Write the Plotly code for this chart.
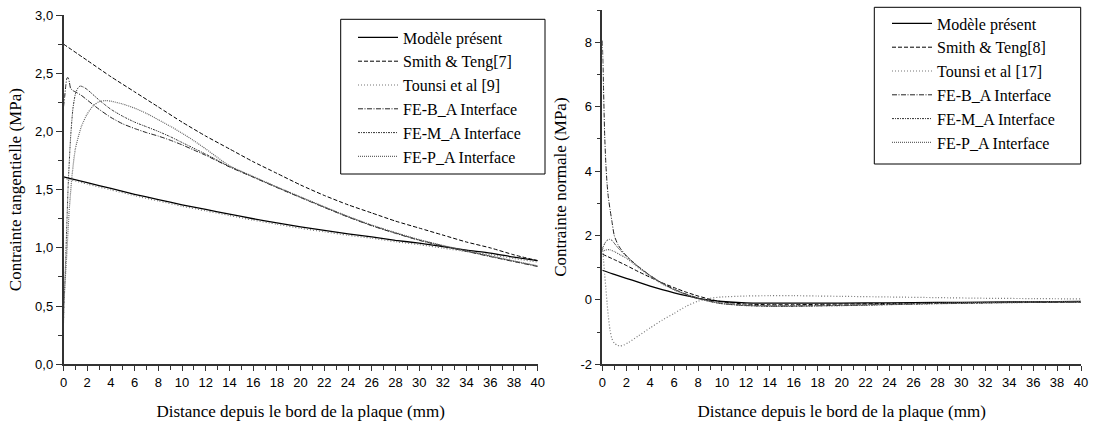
import plotly.graph_objects as go

# ---------------- Left panel: shear stress ----------------
xl_model = [0, 2, 4, 6, 8, 10, 12, 14, 16, 18, 20, 22, 24, 26, 28, 30, 32, 34, 36, 38, 40]
yl_model = [1.61, 1.56, 1.51, 1.46, 1.415, 1.37, 1.33, 1.29, 1.25, 1.215, 1.18, 1.15, 1.12,
            1.095, 1.065, 1.04, 1.01, 0.98, 0.955, 0.92, 0.89]
yl_tounsi = [1.60, 1.548, 1.498, 1.448, 1.403, 1.358, 1.318, 1.278, 1.238, 1.203, 1.168, 1.138,
             1.108, 1.083, 1.053, 1.028, 0.998, 0.968, 0.943, 0.908, 0.878]
yl_smith = [2.75, 2.61, 2.47, 2.34, 2.21, 2.08, 1.96, 1.85, 1.74, 1.64, 1.54, 1.45, 1.37,
            1.30, 1.23, 1.17, 1.11, 1.05, 1.00, 0.94, 0.89]

xl_tail = [14, 16, 18, 20, 22, 24, 26, 28, 30, 32, 34, 36, 38, 40]

xl_feb = [0, 0.1, 0.2, 0.3, 0.4, 0.5, 0.6, 0.8, 1.0, 1.5, 2, 3, 4, 5, 6, 7, 8, 9, 10, 11, 12, 13] + xl_tail
yl_feb = [2.21, 2.30, 2.40, 2.46, 2.46, 2.42, 2.37, 2.35, 2.34, 2.31, 2.27, 2.19, 2.12, 2.065, 2.025,
          1.99, 1.96, 1.925, 1.885, 1.84, 1.795, 1.745,
          1.695, 1.607, 1.518, 1.432, 1.347, 1.265, 1.19, 1.125, 1.065, 1.015, 0.97, 0.925, 0.882, 0.84]

xl_fem = [0, 0.2, 0.4, 0.6, 0.8, 1.0, 1.2, 1.4, 1.7, 2, 3, 4, 5, 6, 7, 8, 9, 10, 11, 12, 13] + xl_tail
yl_fem = [0.35, 0.95, 1.55, 1.95, 2.2, 2.32, 2.37, 2.39, 2.38, 2.36, 2.27, 2.19, 2.13, 2.08, 2.04,
          2.0, 1.955, 1.905, 1.855, 1.805, 1.752,
          1.70, 1.61, 1.521, 1.435, 1.35, 1.268, 1.193, 1.128, 1.068, 1.018, 0.973, 0.928, 0.885, 0.843]

xl_fep = [0, 0.25, 0.5, 0.75, 1.0, 1.5, 2, 2.5, 3, 3.5, 4, 5, 6, 7, 8, 9, 10, 11, 12, 13] + xl_tail
yl_fep = [0.5, 0.9, 1.35, 1.65, 1.85, 2.04, 2.15, 2.22, 2.255, 2.265, 2.26, 2.235, 2.2, 2.155, 2.10,
          2.045, 1.985, 1.92, 1.85, 1.775,
          1.705, 1.613, 1.524, 1.438, 1.353, 1.271, 1.196, 1.131, 1.071, 1.021, 0.976, 0.931, 0.888, 0.846]

# ---------------- Right panel: normal stress ----------------
xr_model = [0, 1, 2, 3, 4, 5, 6, 7, 8, 9, 10, 12, 14, 16, 18, 20, 24, 28, 32, 36, 40]
yr_model = [0.92, 0.79, 0.67, 0.55, 0.43, 0.32, 0.22, 0.13, 0.05, -0.01, -0.05, -0.09, -0.10,
            -0.10, -0.10, -0.10, -0.09, -0.08, -0.07, -0.06, -0.05]

xr_smith = [0, 1, 2, 3, 4, 5, 6, 7, 8, 9, 10, 12, 14, 16, 18, 20, 24, 28, 32, 36, 40]
yr_smith = [1.42, 1.25, 1.07, 0.88, 0.70, 0.53, 0.38, 0.24, 0.12, 0.02, -0.06, -0.13, -0.15,
            -0.15, -0.14, -0.13, -0.11, -0.09, -0.08, -0.07, -0.06]

xr_tounsi = [0, 0.1, 0.2, 0.3, 0.4, 0.5, 0.65, 0.8, 1.0, 1.25, 1.5, 1.8, 2.2, 3, 4, 5, 6, 7, 8, 9,
             10, 12, 14, 16, 18, 20, 24, 28, 32, 36, 40]
yr_tounsi = [1.65, 1.25, 0.8, 0.35, -0.1, -0.5, -0.95, -1.2, -1.34, -1.41, -1.43, -1.40, -1.32,
             -1.12, -0.87, -0.63, -0.42, -0.2, -0.04, 0.05, 0.09, 0.12, 0.13, 0.13, 0.12, 0.11,
             0.09, 0.07, 0.05, 0.04, 0.03]

xr_tail = [9, 10, 12, 14, 16, 18, 20, 24, 28, 32, 36, 40]

xr_feb = [0, 0.05, 0.1, 0.15, 0.2, 0.3, 0.4, 0.5, 0.65, 0.8, 1.0, 1.3, 1.6, 2, 2.5, 3, 4, 5, 6, 7, 8] + xr_tail
yr_feb = [8.05, 7.4, 6.6, 5.8, 5.1, 4.2, 3.6, 3.2, 2.8, 2.45, 2.0, 1.72, 1.55, 1.38, 1.2, 1.04,
          0.76, 0.52, 0.33, 0.18, 0.06,
          -0.04, -0.11, -0.17, -0.19, -0.19, -0.18, -0.17, -0.14, -0.11, -0.09, -0.07, -0.06]

xr_fem = [0, 0.2, 0.4, 0.6, 0.8, 1.0, 1.3, 1.6, 2, 2.5, 3, 4, 5, 6, 7, 8] + xr_tail
yr_fem = [1.55, 1.75, 1.85, 1.88, 1.85, 1.76, 1.62, 1.5, 1.36, 1.19, 1.03, 0.75, 0.51, 0.32, 0.17,
          0.05, -0.05, -0.12, -0.18, -0.2, -0.2, -0.19, -0.18, -0.15, -0.12, -0.1, -0.08, -0.07]

xr_fep = [0, 0.3, 0.6, 1.0, 1.5, 2, 2.5, 3, 4, 5, 6, 7, 8] + xr_tail
yr_fep = [1.5, 1.55, 1.56, 1.5, 1.4, 1.3, 1.16, 1.01, 0.74, 0.5, 0.31, 0.16, 0.04,
          -0.05, -0.11, -0.16, -0.18, -0.18, -0.17, -0.16, -0.13, -0.1, -0.08, -0.06, -0.05]

names_left = ["Modèle présent", "Smith & Teng[7]", "Tounsi et al [9]",
              "FE-B_A Interface", "FE-M_A Interface", "FE-P_A Interface"]
names_right = ["Modèle présent", "Smith & Teng[8]", "Tounsi et al [17]",
               "FE-B_A Interface", "FE-M_A Interface", "FE-P_A Interface"]

styles = [
    dict(color="black", width=1.3, dash="solid"),
    dict(color="black", width=1.0, dash="4px,2px"),
    dict(color="#777777", width=1.2, dash="1px,2px"),
    dict(color="#222222", width=1.0, dash="5px,1.5px,1px,1.5px"),
    dict(color="#333333", width=1.0, dash="2px,1px,1px,1px"),
    dict(color="#666666", width=1.2, dash="1px,1px"),
]

fig = go.Figure()
left_sets = [(xl_model, yl_model), (xl_model, yl_smith), (xl_model, yl_tounsi),
             (xl_feb, yl_feb), (xl_fem, yl_fem), (xl_fep, yl_fep)]
right_sets = [(xr_model, yr_model), (xr_smith, yr_smith), (xr_tounsi, yr_tounsi),
              (xr_feb, yr_feb), (xr_fem, yr_fem), (xr_fep, yr_fep)]

for (x, y), name, st in zip(left_sets, names_left, styles):
    fig.add_trace(go.Scatter(x=x, y=y, mode="lines", name=name, line=dict(shape="spline", smoothing=0.6, **st),
                             xaxis="x", yaxis="y", legend="legend"))
for (x, y), name, st in zip(right_sets, names_right, styles):
    fig.add_trace(go.Scatter(x=x, y=y, mode="lines", name=name, line=dict(shape="spline", smoothing=0.6, **st),
                             xaxis="x2", yaxis="y2", legend="legend2"))

W, H = 1100, 422
def px(x):
    return x / W
def py(y):
    return 1 - y / H

tickfont = dict(family="Liberation Sans", size=13, color="black")
titlefont = dict(family="Liberation Serif", size=17, color="black")
legfont = dict(family="Liberation Serif", size=16, color="black")
axcommon = dict(showgrid=False, zeroline=False, showline=True, linecolor="#333333", linewidth=1.5,
                ticks="outside", tickcolor="#333333", tickwidth=1.2, tickfont=tickfont,
                automargin=False, mirror=False, ticklabeloverflow="allow")

fig.update_layout(
    width=W, height=H, margin=dict(l=0, r=0, t=0, b=0),
    paper_bgcolor="white", plot_bgcolor="white", separators=", ",
    xaxis=dict(domain=[px(63.5), px(537.7)], range=[0, 40], dtick=2, tick0=0, ticklen=5,
               minor=dict(ticks="outside", dtick=1, ticklen=4, tickcolor="#333333", tickwidth=1.2),
               title=dict(text="Distance depuis le bord de la plaque (mm)", font=titlefont, standoff=16),
               anchor="y", **axcommon),
    yaxis=dict(domain=[py(364.3), py(15)], range=[0, 3], dtick=0.5, tick0=0, tickformat=".1f", ticklen=6,
               minor=dict(ticks="outside", dtick=0.25, ticklen=4, tickcolor="#333333", tickwidth=1.2),
               title=dict(text="Contrainte tangentielle (MPa)", font=titlefont, standoff=9),
               anchor="x", **axcommon),
    xaxis2=dict(domain=[px(602.3), px(1081)], range=[0, 40], dtick=2, tick0=0, ticklen=5,
                minor=dict(ticks="outside", dtick=1, ticklen=4, tickcolor="#333333", tickwidth=1.2),
                title=dict(text="Distance depuis le bord de la plaque (mm)", font=titlefont, standoff=16),
                anchor="y2", **axcommon),
    yaxis2=dict(domain=[py(364.3), py(10)], range=[-2, 9], tickmode="array",
                tickvals=[-2, 0, 2, 4, 6, 8], ticktext=["-2", "0", "2", "4", "6", "8"], ticklen=6,
                minor=dict(ticks="outside", dtick=1, tick0=0, ticklen=4, tickcolor="#333333", tickwidth=1.2),
                title=dict(text="Contrainte normale (MPa)", font=titlefont, standoff=9),
                anchor="x2", **axcommon),
    legend=dict(x=px(353), y=py(20.5), xanchor="left", yanchor="top", bgcolor="rgba(0,0,0,0)",
                borderwidth=0, font=legfont, tracegroupgap=0, itemwidth=40),
    legend2=dict(x=px(887), y=py(6.5), xanchor="left", yanchor="top", bgcolor="rgba(0,0,0,0)",
                 borderwidth=0, font=legfont, tracegroupgap=0, itemwidth=40),
    shapes=[
        dict(type="rect", xref="paper", yref="paper", x0=px(340.7), x1=px(545), y0=py(174), y1=py(19.3),
             line=dict(color="black", width=1), fillcolor="rgba(0,0,0,0)", layer="above"),
        dict(type="rect", xref="paper", yref="paper", x0=px(874.3), x1=px(1080.7), y0=py(164), y1=py(7.3),
             line=dict(color="black", width=1), fillcolor="rgba(0,0,0,0)", layer="above"),
    ],
)

fig.write_html("out.html", config={"displayModeBar": False},
               post_script="document.body.style.margin='0';")
